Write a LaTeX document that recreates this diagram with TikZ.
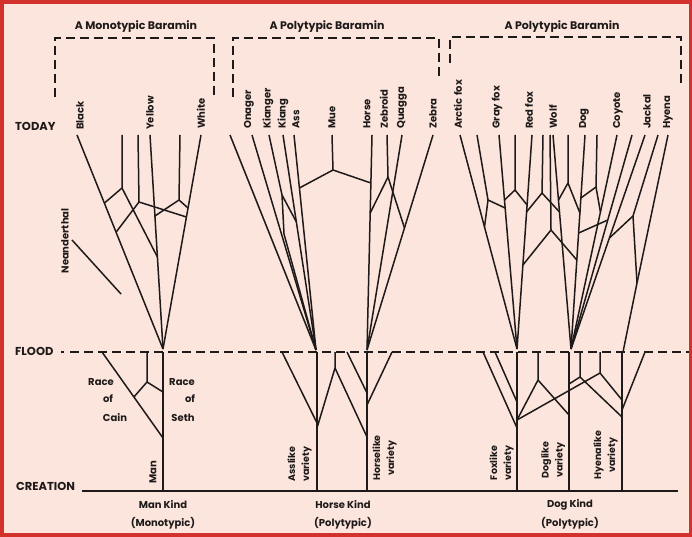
\documentclass[tikz,border=0pt]{standalone}
\usepackage{fontspec}
\setmainfont{Poppins}
\definecolor{ink}{HTML}{1E1A1A}
\definecolor{bg}{HTML}{FCE5DD}
\definecolor{frame}{HTML}{D3322C}
\begin{document}
\begin{tikzpicture}[x=1pt,y=-1pt,
  ln/.style={line width=1.5pt,line join=round,draw=ink},
  br/.style={line width=2.2pt,draw=ink,dash pattern=on 9pt off 5pt},
  fl/.style={line width=1.8pt,draw=ink,dash pattern=on 9pt off 5pt},
  tip/.style={rotate=90,anchor=west,inner sep=0pt,text=ink,font=\bfseries\fontsize{10}{12}\selectfont},
  ttl/.style={inner sep=0pt,text=ink,font=\bfseries\fontsize{11}{13}\selectfont},
  big/.style={inner sep=0pt,text=ink,font=\bfseries\fontsize{11.5}{14}\selectfont},
  var/.style={rotate=90,inner sep=0pt,text=ink,align=center,font=\bfseries\fontsize{9.5}{14}\selectfont},
  sm/.style={inner sep=0pt,text=ink,font=\bfseries\fontsize{10}{12}\selectfont}]
% frame and background
\fill[frame] (0,0) rectangle (692,537);
\fill[bg] (4,4) rectangle (689,533);
\useasboundingbox (0,0) rectangle (692,537);

% ---------- titles and brackets ----------
\node[ttl] (tMono) at (136,27) {A Monotypic Baramin};
\node[ttl] (tHorse) at (327,27) {A Polytypic Baramin};
\node[ttl] (tDog) at (562,27) {A Polytypic Baramin};
\coordinate (b1a) at (55,97); \coordinate (b1b) at (55,38);
\coordinate (b1c) at (214,38); \coordinate (b1d) at (214,97);
\coordinate (b2a) at (233,97); \coordinate (b2b) at (233,38);
\coordinate (b2c) at (439,38); \coordinate (b2d) at (439,80);
\coordinate (b3a) at (450,63); \coordinate (b3b) at (450,37);
\coordinate (b3c) at (681,37); \coordinate (b3d) at (681,83);
\draw[br] (b1a)--(b1b)--(b1c)--(b1d);
\draw[br] (b2a)--(b2b)--(b2c)--(b2d);
\draw[br] (b3a)--(b3b)--(b3c)--(b3d);

% ---------- time labels and lines ----------
\node[big,anchor=west] (today) at (15,126) {TODAY};
\node[big,anchor=west] (flood) at (15,351) {FLOOD};
\node[big,anchor=west] (creation) at (16,486) {CREATION};
\coordinate (fdot0) at (61,352); \coordinate (fdot1) at (64,352);
\coordinate (fl0) at (70,352); \coordinate (fl1) at (689,352);
\draw[line width=1.8pt,draw=ink] (fdot0)--(fdot1);
\draw[fl] (fl0)--(fl1);
\coordinate (cr0) at (82,491); \coordinate (cr1) at (678,491);
\draw[ln,line width=1.8pt] (cr0)--(cr1);

% ---------- Man tree ----------
\node[tip] (lBlack) at (80,130) {Black};
\node[tip] (lYellow) at (150,130) {Yellow};
\node[tip] (lWhite) at (201,129) {White};
\coordinate (mA) at (163,349);
\coordinate (bk) at (77,135);  \coordinate (m1) at (122,135);
\coordinate (m2) at (138,135); \coordinate (ye) at (150,135);
\coordinate (m3) at (180,135); \coordinate (wh) at (201,135);
\coordinate (j1) at (122,188); \coordinate (j2) at (139,202);
\coordinate (j3) at (179,200);
\coordinate (bk1) at (104.5,203); \coordinate (bk2) at (116.2,232);
\coordinate (ye1) at (154.9,216); \coordinate (ye2) at (157.4,257);
\coordinate (wh1) at (188,208);   \coordinate (wh2) at (186.4,217);
\draw[ln] (bk)--(mA); \draw[ln] (ye)--(mA); \draw[ln] (wh)--(mA);
\draw[ln] (m1)--(j1)--(bk1); \draw[ln] (j1)--(ye2);
\draw[ln] (m2)--(j2)--(bk2); \draw[ln] (j2)--(wh2);
\draw[ln] (m3)--(j3)--(ye1); \draw[ln] (j3)--(wh1);
\node[tip,anchor=center] (lNean) at (65,241) {Neanderthal};
\coordinate (n1) at (72,240); \coordinate (n2) at (121,294);
\draw[ln] (n1)--(n2);
% below flood
\coordinate (mF) at (163,352); \coordinate (mC) at (163,491);
\coordinate (cain0) at (102,352); \coordinate (cain1) at (163,438);
\coordinate (seth0) at (147,352); \coordinate (seth1) at (147,382);
\coordinate (seth2) at (163,392); \coordinate (cain2) at (133.9,397);
\draw[ln] (mF)--(mC);
\draw[ln] (cain0)--(cain1);
\draw[ln] (seth0)--(seth1)--(seth2); \draw[ln] (seth1)--(cain2);
\node[sm] (rc1) at (101,382) {Race};
\node[sm] (rc2) at (108,399) {of};
\node[sm] (rc3) at (115,418) {Cain};
\node[sm] (rs1) at (182,382) {Race};
\node[sm] (rs2) at (190,399) {of};
\node[sm] (rs3) at (183,418) {Seth};
\node[tip,anchor=center] (lMan) at (153,472) {Man};
\node[sm] (kMan1) at (163,505) {Man Kind};
\node[sm] (kMan2) at (163,523) {(Monotypic)};

% ---------- Horse tree ----------
\node[tip] (lOnager) at (249,129) {Onager};
\node[tip] (lKianger) at (268,129) {Kianger};
\node[tip] (lKiang) at (283,129) {Kiang};
\node[tip] (lAss) at (296,129) {Ass};
\node[tip] (lMue) at (332,129) {Mue};
\node[tip] (lHorse) at (367,129) {Horse};
\node[tip] (lZebroid) at (384,129) {Zebroid};
\node[tip] (lQuagga) at (402,129) {Quagga};
\node[tip] (lZebra) at (433,129) {Zebra};
\coordinate (hA) at (316,350); \coordinate (hB) at (367,350);
\coordinate (h1) at (230,135); \coordinate (h2) at (252,135);
\coordinate (h3) at (269,135); \coordinate (h4) at (283,135);
\coordinate (h5) at (294,135); \coordinate (hm) at (332,135);
\coordinate (h6) at (372,135); \coordinate (h7) at (387,135);
\coordinate (h8) at (402,135); \coordinate (h9) at (433,135);
\coordinate (hj1) at (282,195); \coordinate (hj1b) at (284,234);
\coordinate (hk1) at (296.4,222);
\coordinate (hmj) at (333,170); \coordinate (ha1) at (299.4,188);
\coordinate (hh1) at (370.9,183); \coordinate (hh2) at (370.2,213);
\coordinate (hzj) at (388,177); \coordinate (hz1) at (404.5,228);
\draw[ln] (h1)--(hA); \draw[ln] (h2)--(hA);
\draw[ln] (h3)--(hj1)--(hj1b)--(hA); \draw[ln] (hj1)--(hk1);
\draw[ln] (h4)--(hA); \draw[ln] (h5)--(hA);
\draw[ln] (hm)--(hmj)--(ha1); \draw[ln] (hmj)--(hh1);
\draw[ln] (h6)--(hB); \draw[ln] (h8)--(hB); \draw[ln] (h9)--(hB);
\draw[ln] (h7)--(hzj)--(hh2); \draw[ln] (hzj)--(hz1);
% below flood
\coordinate (aF) at (317,352); \coordinate (aC) at (317,491);
\coordinate (hF) at (367,352); \coordinate (hC) at (367,491);
\coordinate (hb1) at (282,352); \coordinate (hb1e) at (317,423);
\coordinate (hb2) at (335,352); \coordinate (hb2j) at (335,368);
\coordinate (hb2l) at (317,428); \coordinate (hb2r) at (367,437);
\coordinate (hb3) at (347,352); \coordinate (hb3e) at (367,393);
\coordinate (hb4) at (392,352); \coordinate (hb4e) at (367,405);
\draw[ln] (aF)--(aC); \draw[ln] (hF)--(hC);
\draw[ln] (hb1)--(hb1e);
\draw[ln] (hb2)--(hb2j)--(hb2l); \draw[ln] (hb2j)--(hb2r);
\draw[ln] (hb3)--(hb3e); \draw[ln] (hb4)--(hb4e);
\node[var] (vAss) at (299.5,464) {Asslike\\variety};
\node[var] (vHorse) at (384.5,458) {Horselike\\variety};
\node[sm] (kHorse1) at (343,505) {Horse Kind};
\node[sm] (kHorse2) at (343,523) {(Polytypic)};

% ---------- Dog tree ----------
\node[tip] (lArctic) at (458,129) {Arctic fox};
\node[tip] (lGray) at (497,129) {Gray fox};
\node[tip] (lRed) at (529,129) {Red fox};
\node[tip] (lWolf) at (553,129) {Wolf};
\node[tip] (lDog) at (584,129) {Dog};
\node[tip] (lCoyote) at (618,129) {Coyote};
\node[tip] (lJackal) at (647,129) {Jackal};
\node[tip] (lHyena) at (668,129) {Hyena};
\coordinate (dA) at (517,349); \coordinate (dB) at (571,349);
\coordinate (dC) at (623,352);
\coordinate (t1) at (460,135); \coordinate (t2) at (477,135);
\coordinate (t3) at (499,135); \coordinate (t4) at (515,135);
\coordinate (t5) at (532,135); \coordinate (t6) at (543,135);
\coordinate (t7) at (550,135); \coordinate (t8) at (553,135);
\coordinate (t9) at (568,135); \coordinate (t10) at (585,135);
\coordinate (t11) at (597,135); \coordinate (t12) at (617,135);
\coordinate (t13) at (632,135); \coordinate (t14) at (645,135);
\coordinate (t15) at (658,135); \coordinate (t16) at (668,135);
\coordinate (dj2) at (488,200); \coordinate (d1a) at (484.5,227);
\coordinate (d3a) at (505.1,208); \coordinate (d3b) at (504.5,200);
\coordinate (dj4) at (515,190); \coordinate (d5a) at (527.1,205);
\coordinate (dj6) at (542,193); \coordinate (d5b) at (526.5,212);
\coordinate (d8a) at (559.5,212); \coordinate (d8b) at (558.5,200);
\coordinate (dx) at (551,230); \coordinate (d5c) at (522.9,265);
\coordinate (d10a) at (576.8,260); \coordinate (d10b) at (579.9,213);
\coordinate (d10c) at (580.9,198); \coordinate (d10d) at (578.6,233);
\coordinate (dj9) at (568,183); \coordinate (dj11) at (596,187);
\coordinate (d12a) at (600.4,212); \coordinate (dk) at (607.8,220);
\coordinate (d14a) at (609.4,238); \coordinate (dp) at (633,216);
\coordinate (dq) at (637,283);
\draw[ln] (t1)--(dA); \draw[ln] (t3)--(dA); \draw[ln] (t5)--(dA);
\draw[ln] (t2)--(dj2)--(d1a); \draw[ln] (dj2)--(d3a);
\draw[ln] (t4)--(dj4)--(d3b); \draw[ln] (dj4)--(d5a);
\draw[ln] (t6)--(dj6)--(d5b); \draw[ln] (dj6)--(d8a);
\draw[ln] (t7)--(dx)--(d5c); \draw[ln] (dx)--(d10a);
\draw[ln] (t8)--(dB); \draw[ln] (t10)--(dB); \draw[ln] (t12)--(dB);
\draw[ln] (t13)--(dB); \draw[ln] (t14)--(dB);
\draw[ln] (t9)--(dj9)--(d8b); \draw[ln] (dj9)--(d10b);
\draw[ln] (t11)--(dj11)--(d10c); \draw[ln] (dj11)--(d12a);
\draw[ln] (dk)--(d10d);
\draw[ln] (t15)--(dp)--(d14a); \draw[ln] (dp)--(dq);
\draw[ln] (t16)--(dq)--(dC);
% below flood
\coordinate (fF) at (517,352); \coordinate (fC) at (517,491);
\coordinate (gF) at (569,352); \coordinate (gC) at (569,491);
\coordinate (yF) at (622,352); \coordinate (yC) at (622,491);
\coordinate (db1) at (483,352); \coordinate (db1e) at (517,428);
\coordinate (db2) at (495,352); \coordinate (db2e) at (517,402);
\coordinate (db3) at (538,352); \coordinate (db3j) at (538,380);
\coordinate (fx) at (517,420); \coordinate (gx) at (569,415);
\coordinate (db4) at (600,352); \coordinate (dbq) at (600,373);
\coordinate (yx1) at (622,400);
\coordinate (db5) at (580,352); \coordinate (dbr) at (580,377);
\coordinate (gx2) at (569,384); \coordinate (yx2) at (622,417);
\coordinate (db6) at (645,352); \coordinate (yx3) at (622,410);
\draw[ln] (fF)--(fC); \draw[ln] (gF)--(gC); \draw[ln] (yF)--(yC);
\draw[ln] (db1)--(db1e); \draw[ln] (db2)--(db2e);
\draw[ln] (db3)--(db3j)--(fx); \draw[ln] (db3j)--(gx);
\draw[ln] (db4)--(dbq)--(fx); \draw[ln] (dbq)--(yx1);
\draw[ln] (db5)--(dbr)--(gx2); \draw[ln] (dbr)--(yx2);
\draw[ln] (db6)--(yx3);
\node[var] (vFox) at (501.5,463) {Foxlike\\variety};
\node[var] (vDog) at (553,460) {Doglike\\variety};
\node[var] (vHyena) at (605.5,455) {Hyenalike\\variety};
\node[sm] (kDog1) at (570,505) {Dog Kind};
\node[sm] (kDog2) at (570,523) {(Polytypic)};
\end{tikzpicture}
\end{document}
